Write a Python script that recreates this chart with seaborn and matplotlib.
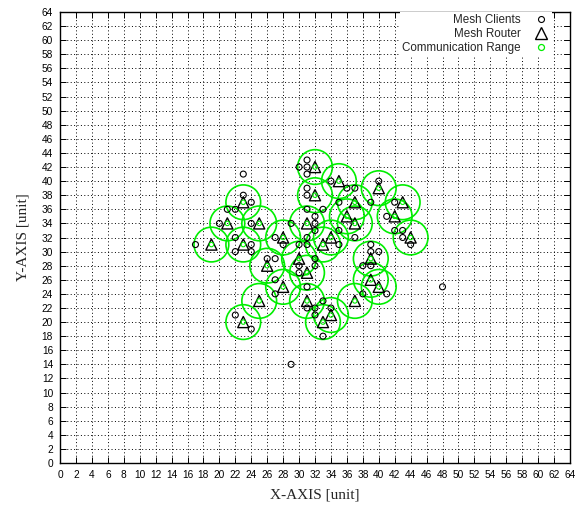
import matplotlib
matplotlib.use("Agg")
import matplotlib.pyplot as plt
from matplotlib.lines import Line2D
import pandas as pd
import seaborn as sns

# Mesh router positions (each router also carries a communication-range circle)
router_x = [19, 21, 23, 23, 25, 28, 26, 28, 25, 23, 30, 31, 31, 33, 34, 37,
            39, 40, 39, 32, 32, 35, 37, 36, 37, 40, 43, 42, 44, 31, 34, 33]
router_y = [31, 34, 37, 31, 34, 32, 28, 25, 23, 20, 29, 27, 23, 20, 21, 23,
            26, 25, 29, 42, 38, 40, 37, 35, 34, 39, 37, 35, 32, 34, 32, 31]

# Mesh client positions
client_x = [17, 20, 21, 22, 23, 23, 24, 24, 22, 24, 22, 24, 27, 28, 26, 27,
            27, 27, 22, 24, 29, 30, 30, 32, 32, 31, 31, 33, 32, 32, 34, 33,
            38, 39, 40, 39, 39, 38, 41, 48, 31, 31, 31, 30, 31, 31, 34, 36,
            37, 39, 40, 42, 41, 43, 44, 43, 42, 32, 32, 32, 31, 35, 37, 35,
            29, 31, 31, 30, 35, 33]
client_y = [31, 34, 36, 36, 41, 38, 37, 34, 32, 31, 30, 30, 32, 31, 29, 29,
            26, 24, 21, 19, 14, 28, 27, 28, 29, 25, 22, 23, 22, 21, 22, 18,
            28, 28, 30, 30, 31, 24, 24, 25, 43, 42, 41, 42, 39, 38, 40, 39,
            39, 37, 40, 37, 35, 32, 31, 33, 33, 34, 33, 35, 36, 33, 32, 31,
            34, 32, 31, 31, 37, 36]

axis_ticks = list(range(0, 65, 2))
legend_labels = ["Mesh Clients", "Mesh Router", "Communication Range"]

sns.set_style("white")
plt.rcParams["font.family"] = ["Liberation Sans", "DejaVu Sans"]

routers = pd.DataFrame({"x": router_x, "y": router_y})
clients = pd.DataFrame({"x": client_x, "y": client_y})

fig = plt.figure(figsize=(5.8, 5.09), dpi=100)
ax = fig.add_axes([60 / 580, 1 - 463 / 509, 510 / 580, 451 / 509])

green = "#00ee00"

# communication range circles around each router
sns.scatterplot(data=routers, x="x", y="y", ax=ax, marker="o", s=25.0 ** 2,
                facecolor="none", edgecolor=green, linewidth=1.2,
                legend=False, zorder=3)
# clients
sns.scatterplot(data=clients, x="x", y="y", ax=ax, marker="o", s=4.3 ** 2,
                facecolor="none", edgecolor="black", linewidth=0.8,
                legend=False, zorder=4)
# routers
sns.scatterplot(data=routers, x="x", y="y", ax=ax, marker="^", s=8.0 ** 2,
                facecolor="none", edgecolor="black", linewidth=1.0,
                legend=False, zorder=5)
# small range marker at the router centre
sns.scatterplot(data=routers, x="x", y="y", ax=ax, marker="o", s=3.2 ** 2,
                facecolor="none", edgecolor=green, linewidth=0.8,
                legend=False, zorder=6)

ax.set_xlim(0, 64)
ax.set_ylim(0, 64)
ax.set_xticks(axis_ticks)
ax.set_yticks(axis_ticks)
ax.set_xticklabels([str(t) for t in axis_ticks], fontsize=7.3)
ax.set_yticklabels([str(t) for t in axis_ticks], fontsize=7.3)
ax.tick_params(direction="in", length=4, width=0.7, top=True, right=True,
               bottom=True, left=True, pad=5, colors="black")
ax.grid(True, linestyle=(0, (1, 2.5)), color="black", linewidth=0.7)
ax.set_axisbelow(True)
for sp in ax.spines.values():
    sp.set_visible(True)
    sp.set_color("black")
    sp.set_linewidth(1.0)

ax.set_xlabel("X-AXIS [unit]", family="Liberation Serif", fontsize=11,
              labelpad=6)
ax.set_ylabel("Y-AXIS [unit]", family="Liberation Serif", fontsize=11,
              labelpad=9)

handles = [
    Line2D([], [], linestyle="none", marker="o", markersize=4.3,
           markerfacecolor="none", markeredgecolor="black",
           markeredgewidth=0.8),
    Line2D([], [], linestyle="none", marker="^", markersize=8.5,
           markerfacecolor="none", markeredgecolor="black",
           markeredgewidth=1.0),
    Line2D([], [], linestyle="none", marker="o", markersize=4.3,
           markerfacecolor="none", markeredgecolor=green,
           markeredgewidth=0.9),
]
leg = ax.legend(handles, legend_labels, loc="upper right", markerfirst=False,
                fontsize=8.4, frameon=True, framealpha=1, facecolor="white",
                edgecolor="none", fancybox=False, borderpad=0.2,
                labelspacing=0.15, handletextpad=1.0, borderaxespad=0.0,
                handlelength=1.5, bbox_to_anchor=(0.965, 1.0))
leg.set_zorder(10)

fig.savefig("out.png", dpi=100)
